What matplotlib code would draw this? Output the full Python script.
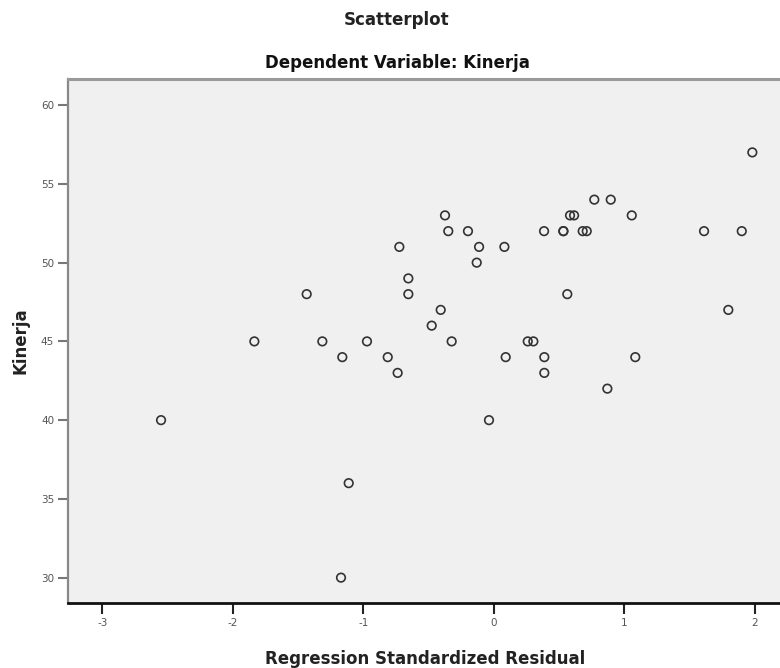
import matplotlib
matplotlib.use("Agg")
import matplotlib.pyplot as plt

# Regression standardized residual (x) and Kinerja (y)
residual = [-0.724, -0.655, -0.655, -1.434, -1.835, -1.314, -0.972,
            1.981, 0.770, 0.896, -0.374, 0.584, 0.615, 1.057,
            -0.349, -0.198, 0.385, 0.533, 0.533, 0.681, 0.712, 1.611, 1.900,
            -0.113, 0.081, -0.131, 0.563, -0.407, 1.797, -0.476,
            -0.323, 0.260, 0.303, -1.161, -0.813, -0.737, -2.550,
            -1.112, -1.171, 0.091, 0.387, 1.084, 0.387, 0.870, -0.037]
kinerja = [51, 49, 48, 48, 45, 45, 45,
           57, 54, 54, 53, 53, 53, 53,
           52, 52, 52, 52, 52, 52, 52, 52, 52,
           51, 51, 50, 48, 47, 47, 46,
           45, 45, 45, 44, 44, 43, 40,
           36, 30, 44, 44, 44, 43, 42, 40]

x_ticks = [-3, -2, -1, 0, 1, 2]
y_ticks = [30, 35, 40, 45, 50, 55, 60]

W, H = 780, 668
fig = plt.figure(figsize=(W / 100, H / 100), dpi=100)
fig.patch.set_facecolor("white")

left_px, right_px, top_px, bottom_px = 68, 780, 79, 603
ax = fig.add_axes([left_px / W, (H - bottom_px) / H,
                   (right_px - left_px) / W, (bottom_px - top_px) / H])
ax.set_facecolor("#F0F0F0")

ax.scatter(residual, kinerja, s=38, facecolors="none",
           edgecolors="#333333", linewidths=1.2, zorder=3)

ax.set_xlim(-3.263, 2.193)
ax.set_ylim(28.39, 61.66)
ax.set_xticks(x_ticks)
ax.set_yticks(y_ticks)
ax.set_xticklabels([str(t) for t in x_ticks])
ax.set_yticklabels([str(t) for t in y_ticks])

ax.tick_params(axis="x", direction="out", length=8, width=1.5,
               color="#222222", labelsize=7.5, labelcolor="#555555", pad=3)
ax.tick_params(axis="y", direction="out", length=7, width=1.5,
               color="#777777", labelsize=7.5, labelcolor="#555555", pad=3)

ax.spines["right"].set_visible(False)
ax.spines["top"].set_color("#999999")
ax.spines["top"].set_linewidth(2.2)
ax.spines["left"].set_color("#888888")
ax.spines["left"].set_linewidth(1.6)
ax.spines["bottom"].set_color("#111111")
ax.spines["bottom"].set_linewidth(2.0)

ax.set_xlabel("Regression Standardized Residual", fontsize=12,
              fontweight="bold", color="#222222")
ax.xaxis.set_label_coords((425 - left_px) / (right_px - left_px),
                          -(650 - bottom_px) / (bottom_px - top_px))
ax.set_ylabel("Kinerja", fontsize=12, fontweight="bold", color="#222222")
ax.yaxis.set_label_coords(-(left_px - 30) / (right_px - left_px), 0.5)

fig.text(397 / W, 1 - 20 / H, "Scatterplot", ha="center", va="center",
         fontsize=12, fontweight="bold", color="#222222")
fig.text(397 / W, 1 - 63 / H, "Dependent Variable: Kinerja", ha="center",
         va="center", fontsize=12, fontweight="bold", color="#111111")

fig.savefig("out.png", dpi=100)
